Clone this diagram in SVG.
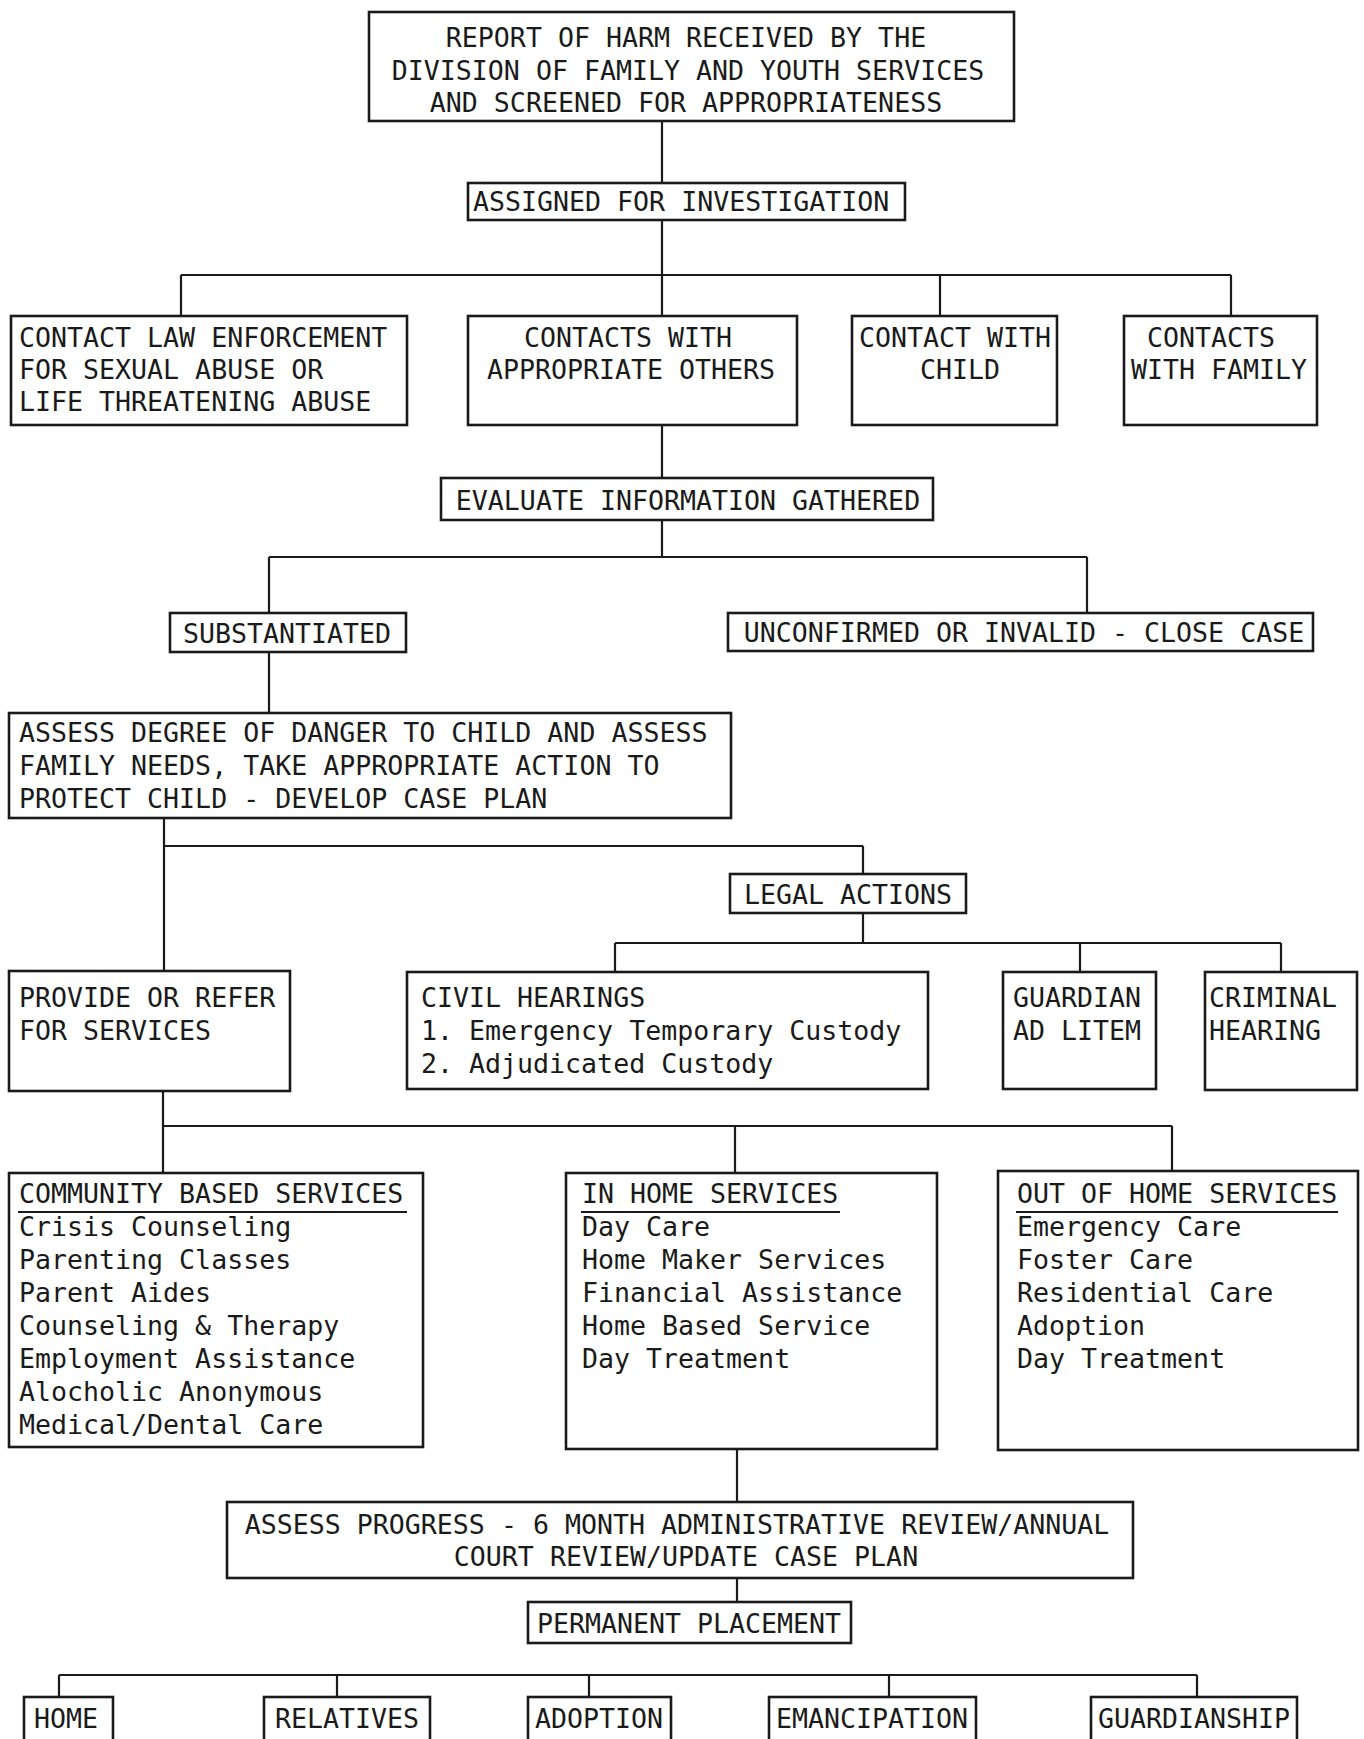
<svg xmlns="http://www.w3.org/2000/svg" width="1364" height="1739" viewBox="0 0 1364 1739">
<style>
text{font-family:"DejaVu Sans Mono","Liberation Mono",monospace;font-size:26.6px;fill:#1a1a1a}
.c{text-anchor:middle}
rect{fill:none;stroke:#1a1a1a;stroke-width:2.6}
#connectors path{fill:none;stroke:#1a1a1a;stroke-width:2.2}
.u{stroke:#1a1a1a;stroke-width:2.2}
</style>
<rect x="0" y="0" width="1364" height="1739" style="fill:#ffffff;stroke:none"/>
<g id="connectors">
<path d="M662 121V183M662 220V316M181 275H1231M181 275V316M940 275V316M1231 275V316"/>
<path d="M662 425V478M662 520V557M269 557H1087M269 557V613M1087 557V613"/>
<path d="M269 652V713"/>
<path d="M164 818V971M164 846H863M863 846V874"/>
<path d="M863 913V943M615 943H1281M615 943V972M1080 943V972M1281 943V972"/>
<path d="M163 1091V1126M163 1126H1172M163 1126V1173M735 1126V1173M1172 1126V1171"/>
<path d="M737 1449V1502M737 1578V1602"/>
<path d="M59 1675H1197M59 1675V1697M337 1675V1697M589 1675V1697M889 1675V1697M1197 1675V1697"/>
</g>
<g id="report">
<rect x="369" y="12" width="645" height="109"/>
<text class="c" x="686" y="47">REPORT OF HARM RECEIVED BY THE</text>
<text class="c" x="688" y="80">DIVISION OF FAMILY AND YOUTH SERVICES</text>
<text class="c" x="686" y="112">AND SCREENED FOR APPROPRIATENESS</text>
</g>
<g id="assigned">
<rect x="468" y="183" width="437" height="37"/>
<text x="473" y="211">ASSIGNED FOR INVESTIGATION</text>
</g>
<g id="law">
<rect x="11" y="316" width="396" height="109"/>
<text x="19" y="347">CONTACT LAW ENFORCEMENT</text>
<text x="19" y="379">FOR SEXUAL ABUSE OR</text>
<text x="19" y="411">LIFE THREATENING ABUSE</text>
</g>
<g id="others">
<rect x="468" y="316" width="329" height="109"/>
<text class="c" x="628" y="347">CONTACTS WITH</text>
<text class="c" x="631" y="379">APPROPRIATE OTHERS</text>
</g>
<g id="child">
<rect x="852" y="316" width="205" height="109"/>
<text class="c" x="955" y="347">CONTACT WITH</text>
<text class="c" x="960" y="379">CHILD</text>
</g>
<g id="family">
<rect x="1124" y="316" width="193" height="109"/>
<text class="c" x="1211" y="347">CONTACTS</text>
<text class="c" x="1219" y="379">WITH FAMILY</text>
</g>
<g id="evaluate">
<rect x="441" y="478" width="492" height="42"/>
<text class="c" x="688" y="510">EVALUATE INFORMATION GATHERED</text>
</g>
<g id="substantiated">
<rect x="170" y="613" width="236" height="39"/>
<text class="c" x="287" y="643">SUBSTANTIATED</text>
</g>
<g id="unconfirmed">
<rect x="728" y="613" width="585" height="38"/>
<text class="c" x="1024" y="642">UNCONFIRMED OR INVALID - CLOSE CASE</text>
</g>
<g id="assess">
<rect x="9" y="713" width="722" height="105"/>
<text x="19" y="742">ASSESS DEGREE OF DANGER TO CHILD AND ASSESS</text>
<text x="19" y="775">FAMILY NEEDS, TAKE APPROPRIATE ACTION TO</text>
<text x="19" y="808">PROTECT CHILD - DEVELOP CASE PLAN</text>
</g>
<g id="legal">
<rect x="730" y="874" width="236" height="39"/>
<text class="c" x="848" y="904">LEGAL ACTIONS</text>
</g>
<g id="provide">
<rect x="9" y="971" width="281" height="120"/>
<text x="19" y="1007">PROVIDE OR REFER</text>
<text x="19" y="1040">FOR SERVICES</text>
</g>
<g id="civil">
<rect x="407" y="972" width="521" height="117"/>
<text x="421" y="1007">CIVIL HEARINGS</text>
<text x="421" y="1040">1. Emergency Temporary Custody</text>
<text x="421" y="1073">2. Adjudicated Custody</text>
</g>
<g id="guardian">
<rect x="1003" y="972" width="153" height="117"/>
<text x="1013" y="1007">GUARDIAN</text>
<text x="1013" y="1040">AD LITEM</text>
</g>
<g id="criminal">
<rect x="1205" y="972" width="152" height="118"/>
<text x="1209" y="1007">CRIMINAL</text>
<text x="1209" y="1040">HEARING</text>
</g>
<g id="community">
<rect x="9" y="1173" width="414" height="274"/>
<text x="19" y="1203">COMMUNITY BASED SERVICES</text>
<line class="u" x1="18" y1="1212" x2="407" y2="1212"/>
<text x="19" y="1236">Crisis Counseling</text>
<text x="19" y="1269">Parenting Classes</text>
<text x="19" y="1302">Parent Aides</text>
<text x="19" y="1335">Counseling &amp; Therapy</text>
<text x="19" y="1368">Employment Assistance</text>
<text x="19" y="1401">Alocholic Anonymous</text>
<text x="19" y="1434">Medical/Dental Care</text>
</g>
<g id="inhome">
<rect x="566" y="1173" width="371" height="276"/>
<text x="582" y="1203">IN HOME SERVICES</text>
<line class="u" x1="581" y1="1212" x2="840" y2="1212"/>
<text x="582" y="1236">Day Care</text>
<text x="582" y="1269">Home Maker Services</text>
<text x="582" y="1302">Financial Assistance</text>
<text x="582" y="1335">Home Based Service</text>
<text x="582" y="1368">Day Treatment</text>
</g>
<g id="outofhome">
<rect x="998" y="1171" width="360" height="279"/>
<text x="1017" y="1203">OUT OF HOME SERVICES</text>
<line class="u" x1="1016" y1="1212" x2="1338" y2="1212"/>
<text x="1017" y="1236">Emergency Care</text>
<text x="1017" y="1269">Foster Care</text>
<text x="1017" y="1302">Residential Care</text>
<text x="1017" y="1335">Adoption</text>
<text x="1017" y="1368">Day Treatment</text>
</g>
<g id="progress">
<rect x="227" y="1502" width="906" height="76"/>
<text class="c" x="677" y="1534">ASSESS PROGRESS - 6 MONTH ADMINISTRATIVE REVIEW/ANNUAL</text>
<text class="c" x="686" y="1566">COURT REVIEW/UPDATE CASE PLAN</text>
</g>
<g id="permanent">
<rect x="528" y="1602" width="323" height="41"/>
<text class="c" x="689" y="1633">PERMANENT PLACEMENT</text>
</g>
<g id="home">
<rect x="24" y="1697" width="89" height="70"/>
<text x="34" y="1728">HOME</text>
</g>
<g id="relatives">
<rect x="264" y="1697" width="166" height="70"/>
<text class="c" x="347" y="1728">RELATIVES</text>
</g>
<g id="adoption">
<rect x="528" y="1697" width="143" height="70"/>
<text class="c" x="599" y="1728">ADOPTION</text>
</g>
<g id="emancipation">
<rect x="769" y="1697" width="207" height="70"/>
<text class="c" x="872" y="1728">EMANCIPATION</text>
</g>
<g id="guardianship">
<rect x="1091" y="1697" width="206" height="70"/>
<text class="c" x="1194" y="1728">GUARDIANSHIP</text>
</g>
</svg>
